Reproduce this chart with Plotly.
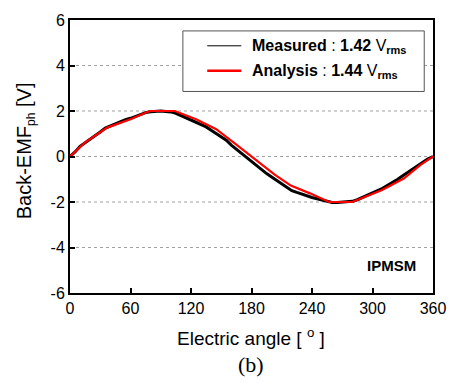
import plotly.graph_objects as go

# Measured back-EMF
meas_deg = [0, 5, 10, 15, 20, 25, 30, 35, 40, 45, 50, 55, 60, 65, 70, 75, 80, 85, 90, 95,
            100, 105, 110, 115, 120, 125, 130, 135, 140, 145, 150, 155, 160, 165, 170, 175,
            180, 185, 190, 195, 200, 205, 210, 215, 220, 225, 230, 235, 240, 245, 250, 255,
            260, 265, 270, 275, 280, 285, 290, 295, 300, 305, 310, 315, 320, 325, 330, 335,
            340, 345, 350, 355, 360]
meas_val = [0.0, 0.2, 0.45, 0.6, 0.75, 0.9, 1.08, 1.25, 1.35, 1.45, 1.55, 1.62, 1.68, 1.76,
            1.85, 1.93, 1.97, 1.99, 2.0, 1.98, 1.96, 1.9, 1.8, 1.7, 1.6, 1.5, 1.4, 1.3, 1.15,
            1.0, 0.88, 0.72, 0.5, 0.32, 0.12, -0.05, -0.22, -0.4, -0.6, -0.75, -0.9, -1.05,
            -1.2, -1.35, -1.5, -1.58, -1.66, -1.73, -1.8, -1.86, -1.92, -1.98, -2.02, -2.02,
            -2.0, -2.0, -1.97, -1.9, -1.8, -1.72, -1.62, -1.5, -1.4, -1.27, -1.15, -1.0,
            -0.85, -0.7, -0.55, -0.4, -0.22, -0.1, 0.0]

# Analysis back-EMF
ana_deg = [0, 15, 37, 60, 79, 104, 125, 145, 164, 183, 203, 219, 238, 257, 280, 309, 331, 347, 360]
ana_val = [0.0, 0.62, 1.27, 1.64, 2.0, 2.0, 1.64, 1.2, 0.55, -0.1, -0.8, -1.28, -1.62, -2.0,
           -2.0, -1.48, -0.97, -0.39, 0.0]

x_ticks = [0, 60, 120, 180, 240, 300, 360]
y_ticks = [-6, -4, -2, 0, 2, 4, 6]
grid_vals = [-4, -2, 0, 2, 4]

L, R, T, B = 70, 443, 18, 293
W, H = 458, 385
PW, PH = R - L, B - T

def px(x):
    return (x - L) / PW

def py(y):
    return (B - y) / PH

fig = go.Figure()
fig.add_trace(go.Scatter(x=meas_deg, y=meas_val, mode="lines",
                         line=dict(color="black", width=3), showlegend=False))
fig.add_trace(go.Scatter(x=ana_deg, y=ana_val, mode="lines",
                         line=dict(color="#ff0000", width=2.2), showlegend=False))

for g in grid_vals:
    fig.add_shape(type="line", xref="x", yref="y", x0=0, x1=360, y0=g, y1=g,
                  line=dict(color="#a0a0a0", width=1, dash="dot"), layer="below")

FONT = "Liberation Sans, Arial"
# manual legend
fig.add_shape(type="rect", xref="paper", yref="paper", x0=px(186), x1=px(434),
              y0=py(90), y1=py(29), line=dict(color="#555", width=1), fillcolor="white")
fig.add_shape(type="line", xref="paper", yref="paper", x0=px(211), x1=px(246),
              y0=py(44), y1=py(44), line=dict(color="black", width=1))
fig.add_shape(type="line", xref="paper", yref="paper", x0=px(211), x1=px(246),
              y0=py(69), y1=py(69), line=dict(color="#ff0000", width=2.5))
fig.add_annotation(xref="paper", yref="paper", x=px(255), y=py(45),
                   xanchor="left", yanchor="middle", showarrow=False,
                   text="<b>Measured</b> : <b>1.42</b> V<sub><b><span style='font-size:11px'>rms</span></b></sub>",
                   font=dict(family=FONT, size=16, color="black"))
fig.add_annotation(xref="paper", yref="paper", x=px(255), y=py(70),
                   xanchor="left", yanchor="middle", showarrow=False,
                   text="<b>Analysis</b> : <b>1.44</b> V<sub><b><span style='font-size:11px'>rms</span></b></sub>",
                   font=dict(family=FONT, size=16, color="black"))
fig.add_annotation(xref="paper", yref="paper", x=px(428), y=py(265),
                   xanchor="right", yanchor="middle", showarrow=False,
                   text="<b>IPMSM</b>",
                   font=dict(family=FONT, size=15, color="black"))
fig.add_annotation(xref="paper", yref="paper", x=px(256), y=py(337),
                   xanchor="center", yanchor="middle", showarrow=False,
                   text="Electric angle [ <sup>o</sup> ]",
                   font=dict(family=FONT, size=19, color="black"))
fig.add_annotation(xref="paper", yref="paper", x=px(24), y=py(150),
                   xanchor="center", yanchor="middle", showarrow=False, textangle=-90,
                   text="Back-EMF<sub><span style='font-size:12px'>ph</span></sub> [V]",
                   font=dict(family=FONT, size=20, color="black"))
fig.add_annotation(xref="paper", yref="paper", x=px(256), y=py(365),
                   xanchor="center", yanchor="middle", showarrow=False,
                   text="(b)",
                   font=dict(family="Liberation Serif, Times New Roman", size=22, color="black"))

axis_common = dict(showline=True, linecolor="black", linewidth=2, mirror=True,
                   ticks="inside", ticklen=5, tickwidth=1.5, tickcolor="black",
                   showgrid=False, zeroline=False,
                   tickfont=dict(family=FONT, size=16, color="black"))

fig.update_layout(
    width=W, height=H,
    margin=dict(l=L, r=W - R, t=T, b=H - B),
    plot_bgcolor="white", paper_bgcolor="white",
    xaxis=dict(range=[0, 360], tickvals=x_ticks, ticktext=[str(t) for t in x_ticks],
               **axis_common),
    yaxis=dict(range=[-6, 6], tickvals=y_ticks, ticktext=[str(t) for t in y_ticks],
               **axis_common),
)

fig.write_html("out.html")
